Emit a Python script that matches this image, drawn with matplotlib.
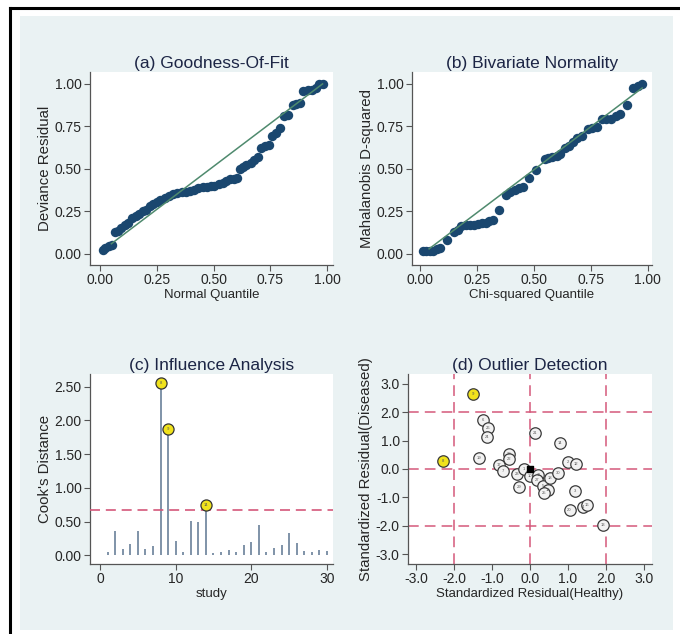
import matplotlib
matplotlib.use("Agg")
import matplotlib.pyplot as plt
from matplotlib.patches import Rectangle
from matplotlib.lines import Line2D

plt.rcParams['font.family'] = ['Liberation Sans', 'DejaVu Sans']

# ---------------- data ----------------
# (a) Goodness-of-fit
gof_x = [0.012, 0.024, 0.038, 0.052, 0.064, 0.078, 0.093, 0.108, 0.123, 0.142, 0.157, 0.172,
         0.189, 0.204, 0.219, 0.234, 0.251, 0.266, 0.286, 0.305, 0.322, 0.340, 0.359, 0.379,
         0.396, 0.414, 0.433, 0.453, 0.470, 0.488, 0.503, 0.522, 0.541, 0.556, 0.574, 0.589,
         0.604, 0.615, 0.630, 0.645, 0.663, 0.678, 0.695, 0.707, 0.725, 0.744, 0.759, 0.774,
         0.793, 0.811, 0.828, 0.848, 0.862, 0.882, 0.896, 0.914, 0.932, 0.951, 0.966, 0.981]
gof_y = [0.022, 0.033, 0.049, 0.053, 0.131, 0.137, 0.153, 0.169, 0.182, 0.214, 0.225, 0.235,
         0.251, 0.261, 0.280, 0.296, 0.304, 0.316, 0.329, 0.339, 0.351, 0.361, 0.365, 0.367,
         0.369, 0.375, 0.386, 0.392, 0.394, 0.398, 0.402, 0.410, 0.418, 0.427, 0.441, 0.443,
         0.447, 0.498, 0.512, 0.525, 0.535, 0.555, 0.571, 0.624, 0.633, 0.639, 0.696, 0.712,
         0.741, 0.810, 0.818, 0.876, 0.882, 0.888, 0.961, 0.963, 0.967, 0.976, 1.000, 1.002]
gof_line_x = [0.05, 0.98]
gof_line_y = [0.06, 1.00]

# (b) Bivariate normality
bvn_x = [0.012, 0.027, 0.044, 0.059, 0.074, 0.089, 0.119, 0.148, 0.166, 0.181, 0.200, 0.219,
         0.237, 0.255, 0.273, 0.289, 0.304, 0.319, 0.348, 0.378, 0.397, 0.418, 0.433, 0.452,
         0.477, 0.511, 0.548, 0.563, 0.581, 0.600, 0.615, 0.637, 0.652, 0.670, 0.689, 0.711,
         0.738, 0.756, 0.778, 0.800, 0.818, 0.837, 0.859, 0.879, 0.907, 0.933, 0.956, 0.975]
bvn_y = [0.020, 0.016, 0.018, 0.020, 0.031, 0.037, 0.080, 0.127, 0.139, 0.163, 0.169, 0.169,
         0.173, 0.176, 0.180, 0.184, 0.192, 0.198, 0.257, 0.349, 0.363, 0.378, 0.388, 0.396,
         0.447, 0.492, 0.559, 0.567, 0.571, 0.575, 0.588, 0.624, 0.637, 0.661, 0.680, 0.696,
         0.737, 0.739, 0.747, 0.794, 0.796, 0.794, 0.814, 0.825, 0.875, 0.976, 0.986, 1.000]
bvn_line_x = [0.04, 0.975]
bvn_line_y = [0.03, 0.976]

# (c) Influence analysis
study = list(range(1, 31))
cooks = [0.05, 0.36, 0.10, 0.16, 0.36, 0.10, 0.14, 2.55, 1.88, 0.21,
         0.05, 0.51, 0.50, 0.75, 0.04, 0.05, 0.08, 0.05, 0.15, 0.19,
         0.45, 0.05, 0.11, 0.15, 0.33, 0.18, 0.07, 0.05, 0.08, 0.06]
influential = [8, 9, 14]
cooks_cut = 0.67

# (d) Outlier detection
res_healthy = [-1.49, -2.30, -1.23, -1.10, -1.13, -1.33, -0.54, -0.54, -0.82, -0.72,
               -0.35, -0.29, 0.13, -0.15, 0.00, 0.22, 0.18, 0.35, 0.48, 0.38,
               0.53, 0.73, 0.79, 1.01, 1.21, 1.18, 1.04, 1.39, 1.51, 1.91]
res_diseased = [2.65, 0.27, 1.74, 1.44, 1.12, 0.39, 0.53, 0.35, 0.14, -0.06,
                -0.18, -0.65, 1.27, 0.00, -0.24, -0.20, -0.39, -0.59, -0.73, -0.86,
                -0.32, -0.14, 0.92, 0.24, 0.18, -0.79, -1.45, -1.33, -1.27, -1.98]
res_label = [9, 8, 6, 26, 24, 19, 28, 22, 17, 7,
             23, 29, 21, 1, 10, 11, 27, 5, 15, 25,
             18, 30, 14, 2, 12, 3, 20, 4, 16, 13]
outliers = [9, 8]
center_x, center_y = 0.0, 0.0

# ---------------- style ----------------
BG = '#eaf2f3'
NAVY = '#1a476f'
LINEGREEN = '#4f8a6e'
TITLE = '#1c2545'
TXT = '#262626'
SPINE = '#555555'
PINK = '#d4587a'
STEM = '#7f93a8'
YEL = '#f0e21c'

W, H = 680, 634
fig = plt.figure(figsize=(W / 100, H / 100), dpi=100)
fig.patch.set_facecolor('white')

def fx(px):
    return px / W

def fy(py):
    return 1 - py / H

fig.patches.append(Rectangle((fx(20), fy(630)), fx(673) - fx(20), fy(16) - fy(630),
                             transform=fig.transFigure, facecolor=BG, edgecolor='none', zorder=-10))
fig.lines.append(Line2D([fx(10), fx(10)], [fy(634), fy(8)], transform=fig.transFigure,
                        color='black', lw=2.2, zorder=-5))
fig.lines.append(Line2D([fx(10), fx(680)], [fy(8), fy(8)], transform=fig.transFigure,
                        color='black', lw=2.2, zorder=-5))

def make_ax(l, r, t, b):
    ax = fig.add_axes([fx(l), fy(b), fx(r) - fx(l), fy(t) - fy(b)])
    ax.set_facecolor('white')
    for s in ['top', 'right']:
        ax.spines[s].set_visible(False)
    for s in ['left', 'bottom']:
        ax.spines[s].set_color(SPINE)
        ax.spines[s].set_linewidth(0.9)
    ax.tick_params(direction='out', length=4, width=0.8, color=SPINE,
                   labelsize=10, labelcolor=TXT, pad=2)
    return ax

def style_titles(ax, title, xl, yl):
    ax.set_title(title, fontsize=12.5, color=TITLE, pad=3)
    ax.set_xlabel(xl, fontsize=9.5, color=TXT, labelpad=1)
    ax.set_ylabel(yl, fontsize=10.8, color=TXT, labelpad=2)

# (a)
ax = make_ax(90, 333, 72, 265)
ax.plot(gof_line_x, gof_line_y, color=LINEGREEN, lw=1.1, zorder=3)
ax.scatter(gof_x, gof_y, s=46, color=NAVY, zorder=2, linewidths=0)
ax.set_xlim(-0.044, 1.026)
ax.set_ylim(-0.065, 1.07)
ticks = [0, 0.25, 0.5, 0.75, 1.0]
ax.set_xticks(ticks, ['0.00', '0.25', '0.50', '0.75', '1.00'])
ax.set_yticks(ticks, ['0.00', '0.25', '0.50', '0.75', '1.00'])
style_titles(ax, '(a) Goodness-Of-Fit', 'Normal Quantile', 'Deviance Residual')

# (b)
ax = make_ax(412, 652, 72, 265)
ax.plot(bvn_line_x, bvn_line_y, color=LINEGREEN, lw=1.1, zorder=3)
ax.scatter(bvn_x, bvn_y, s=46, color=NAVY, zorder=2, linewidths=0)
ax.set_xlim(-0.035, 1.018)
ax.set_ylim(-0.065, 1.07)
ax.set_xticks(ticks, ['0.00', '0.25', '0.50', '0.75', '1.00'])
ax.set_yticks(ticks, ['0.00', '0.25', '0.50', '0.75', '1.00'])
style_titles(ax, '(b) Bivariate Normality', 'Chi-squared Quantile', 'Mahalanobis D-squared')

# (c)
ax = make_ax(90, 333, 374, 564)
ax.vlines(study, 0, cooks, color=STEM, lw=1.4, zorder=2)
ax.axhline(cooks_cut, color=PINK, lw=1.2, dashes=(6, 3.5), zorder=3)
for s, c in zip(study, cooks):
    if s in influential:
        ax.scatter([s], [c], s=64, facecolor=YEL, edgecolor='#333333', linewidths=0.9, zorder=4)
        ax.text(s, c, str(s), fontsize=3, ha='center', va='center', color='#555555', zorder=5)
ax.set_xlim(-1.32, 30.8)
ax.set_ylim(-0.13, 2.69)
ax.set_xticks([0, 10, 20, 30])
ax.set_yticks([0, 0.5, 1.0, 1.5, 2.0, 2.5], ['0.00', '0.50', '1.00', '1.50', '2.00', '2.50'])
style_titles(ax, '(c) Influence Analysis', 'study', "Cook's Distance")

# (d)
ax = make_ax(408, 652, 374, 564)
for v in [-2, 0, 2]:
    ax.axvline(v, color=PINK, lw=1.1, dashes=(7, 4), zorder=1)
    ax.axhline(v, color=PINK, lw=1.1, dashes=(7, 4), zorder=1)
for hx, dy, lab in zip(res_healthy, res_diseased, res_label):
    fc = YEL if lab in outliers else '#f2f2f2'
    ax.scatter([hx], [dy], s=68, facecolor=fc, edgecolor='#3a3a3a', linewidths=0.9, zorder=3)
    ax.text(hx, dy, str(lab), fontsize=3, ha='center', va='center', color='#555555', zorder=4)
ax.scatter([center_x], [center_y], s=16, marker='s', color='black', zorder=5)
ax.set_xlim(-3.21, 3.21)
ax.set_ylim(-3.35, 3.35)
dt = [-3, -2, -1, 0, 1, 2, 3]
dl = ['-3.0', '-2.0', '-1.0', '0.0', '1.0', '2.0', '3.0']
ax.set_xticks(dt, dl)
ax.set_yticks(dt, dl)
style_titles(ax, '(d) Outlier Detection', 'Standardized Residual(Healthy)',
             'Standardized Residual(Diseased)')

fig.savefig('out.png', dpi=100, facecolor='white')
